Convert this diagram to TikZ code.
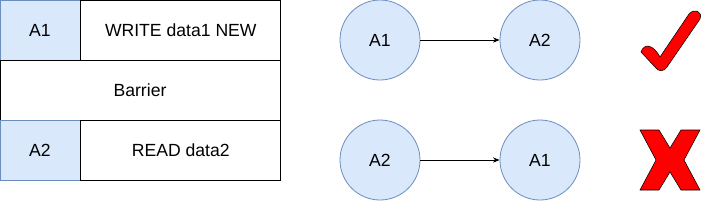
\documentclass[tikz,border=0pt]{standalone}
\usepackage{fontspec}
\setmainfont{Liberation Sans}
\usetikzlibrary{arrows.meta, positioning}
\definecolor{cellfill}{HTML}{DAE8FC}
\definecolor{celldraw}{HTML}{6C8EBF}

\begin{document}
\begin{tikzpicture}[
  x=0.75pt, y=-0.75pt,
  font=\fontsize{13.2}{15}\selectfont,
  idcell/.style={
    rectangle, draw=celldraw, fill=cellfill, line width=0.6pt,
    minimum width=60pt, minimum height=45pt, inner sep=0pt
  },
  opcell/.style={
    rectangle, draw=black, fill=white, line width=0.6pt,
    minimum width=150pt, minimum height=45pt, inner sep=0pt
  },
  barcell/.style={
    rectangle, draw=black, fill=white, line width=0.6pt,
    minimum width=210pt, minimum height=45pt, inner sep=0pt
  },
  agent/.style={
    circle, draw=celldraw, fill=cellfill, line width=0.6pt,
    minimum size=60pt, inner sep=0pt
  },
  arr/.style={-{Stealth[length=5pt, width=4pt]}, line width=0.6pt, draw=black},
  verdict/.style={fill=red, draw=black, line width=0.4pt}
]
\useasboundingbox (0,0) rectangle (701,201);

%% Left: instruction table
\node[idcell] (w1)  at (40,30)  {A1};
\node[opcell, right=0pt of w1]  (wop) {WRITE data1 NEW};
\node[barcell] (bar) at (140,90) {Barrier};
\node[idcell] (r2)  at (40,150) {A2};
\node[opcell, right=0pt of r2]  (rop) {READ data2};

%% Middle: orderings
\node[agent] (ok1)  at (380,40)  {A1};
\node[agent] (ok2)  at (540,40)  {A2};
\node[agent] (bad2) at (380,160) {A2};
\node[agent] (bad1) at (540,160) {A1};
\draw[arr] (ok1)  -- (ok2);
\draw[arr] (bad2) -- (bad1);

%% Right: verdicts
\path[verdict] (641,52) .. controls (644,43) and (653,44) .. (660,57)
  -- (689,14) .. controls (694,8) and (703,11) .. (700,19)
  -- (667,67) .. controls (664,72) and (658,72) .. (655,67) -- cycle;
\path[verdict] (640,130) -- (659,130) -- (670,148) -- (681,130) -- (700,130)
  -- (684,160) -- (700,190) -- (681,190) -- (670,172) -- (659,190)
  -- (640,190) -- (656,160) -- cycle;

\end{tikzpicture}
\end{document}
